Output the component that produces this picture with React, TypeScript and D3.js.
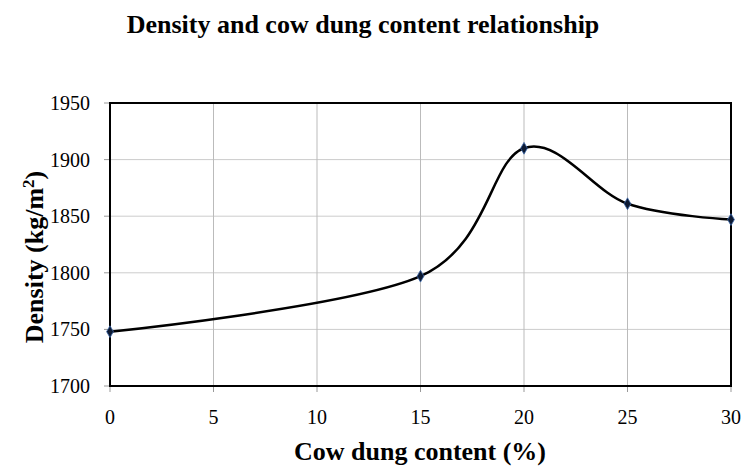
import { FC } from "react";
import * as d3 from "d3";

const W = 742;
const H = 466;

const dungContent = [0, 15, 20, 25, 30];
const densityValues = [1748, 1797, 1910, 1861, 1847];
const xTicks = [0, 5, 10, 15, 20, 25, 30];
const yTicks = [1700, 1750, 1800, 1850, 1900, 1950];

const margin = { left: 110, right: 11, top: 103, bottom: 80 };
const FONT = "'Liberation Serif', 'Times New Roman', serif";

const App: FC = () => {
  const x = d3
    .scaleLinear()
    .domain([0, 30])
    .range([margin.left, W - margin.right]);
  const y = d3
    .scaleLinear()
    .domain([1700, 1950])
    .range([H - margin.bottom, margin.top]);

  const points = dungContent.map((d, i) => [d, densityValues[i]] as [number, number]);

  // Excel-style smoothed line
  const line = d3
    .line<[number, number]>()
    .x((d) => x(d[0]))
    .y((d) => y(d[1]))
    .curve(d3.curveCardinal.tension(0));

  const diamond = d3.symbol().type(d3.symbolDiamond).size(40)();

  const [x0, x1] = x.range();
  const [yb, yt] = y.range();

  return (
    <svg
      width={W}
      height={H}
      style={{ position: "absolute", left: 0, top: 0, background: "#fff" }}
      fontFamily={FONT}
    >
      <text x={363} y={33} textAnchor="middle" fontWeight="bold" fontSize={26}>
        Density and cow dung content relationship
      </text>

      {/* grid */}
      {yTicks.map((t) => (
        <line key={"gy" + t} x1={x0} x2={x1} y1={y(t)} y2={y(t)} stroke="#cccccc" strokeWidth={1} />
      ))}
      {xTicks.map((t) => (
        <line key={"gx" + t} x1={x(t)} x2={x(t)} y1={yt} y2={yb} stroke="#bbbbbb" strokeWidth={1} />
      ))}

      {/* tick marks */}
      {yTicks.map((t) => (
        <line key={"ty" + t} x1={x0 - 6} x2={x0} y1={y(t)} y2={y(t)} stroke="#999" strokeWidth={1} />
      ))}
      {xTicks.map((t) => (
        <line key={"tx" + t} x1={x(t)} x2={x(t)} y1={yb} y2={yb + 6} stroke="#999" strokeWidth={1} />
      ))}

      {/* frame */}
      <rect x={x0} y={yt} width={x1 - x0} height={yb - yt} fill="none" stroke="#000" strokeWidth={2} />

      {/* tick labels */}
      {yTicks.map((t) => (
        <text key={"ly" + t} x={x0 - 20} y={y(t)} dy="0.35em" textAnchor="end" fontSize={20}>
          {t}
        </text>
      ))}
      {xTicks.map((t) => (
        <text key={"lx" + t} x={x(t)} y={yb + 38} textAnchor="middle" fontSize={20}>
          {t}
        </text>
      ))}

      <path d={line(points) ?? ""} fill="none" stroke="#000" strokeWidth={2.5} />
      {points.map((p, i) => (
        <path
          key={"m" + i}
          d={diamond ?? ""}
          transform={`translate(${x(p[0])},${y(p[1])})`}
          fill="#0d1a33"
          stroke="#3a66a8"
          strokeWidth={0.8}
        />
      ))}

      <text x={420} y={460} textAnchor="middle" fontWeight="bold" fontSize={26}>
        Cow dung content (%)
      </text>
      <text
        transform={`translate(43,257) rotate(-90)`}
        textAnchor="middle"
        fontWeight="bold"
        fontSize={26}
      >
        Density (kg/m
        <tspan baselineShift="super" fontSize={17}>
          2
        </tspan>
        )
      </text>
    </svg>
  );
};

export default App;
